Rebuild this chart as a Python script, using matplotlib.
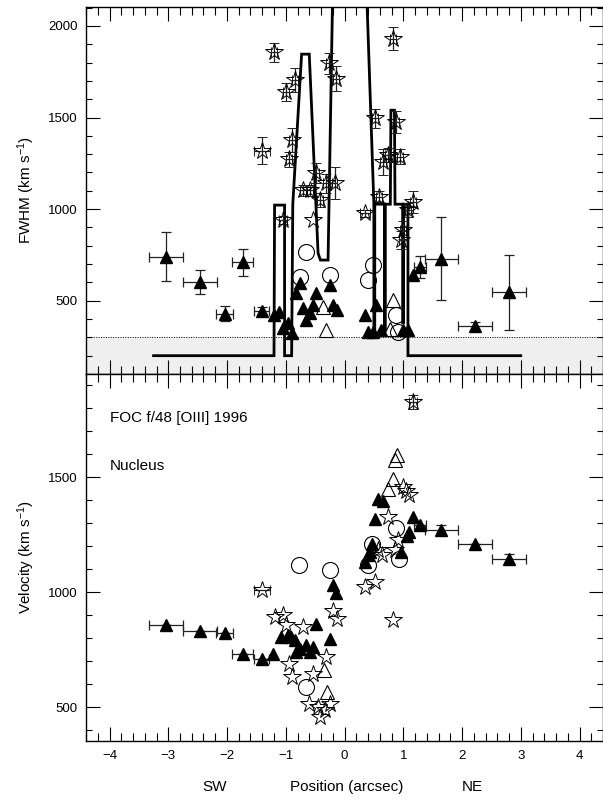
import matplotlib
matplotlib.use("Agg")
import matplotlib.pyplot as plt
from matplotlib.ticker import MultipleLocator, FixedLocator

plt.rcParams['font.family'] = ['Liberation Sans', 'DejaVu Sans']
plt.rcParams['mathtext.fontset'] = 'custom'
plt.rcParams['mathtext.rm'] = 'Liberation Sans'
plt.rcParams['mathtext.it'] = 'Liberation Sans:italic'
plt.rcParams['axes.unicode_minus'] = True

# ---------------- FWHM panel ----------------
# model profile (position, FWHM)
prof_x = [-3.25, -1.20, -1.19, -1.02, -1.02, -0.90, -0.88, -0.73, -0.60, -0.45,
          -0.41, -0.28, -0.13, 0.24, 0.386, 0.50, 0.50, 0.515, 0.515, 0.68,
          0.68, 0.695, 0.695, 0.78, 0.79, 0.85, 0.86, 0.99, 0.99, 1.005,
          1.005, 1.08, 1.08, 3.00]
prof_fwhm = [200, 200, 1022, 1022, 200, 200, 1027, 1846, 1846, 760,
             722, 722, 3500, 3500, 2100, 1027, 340, 340, 1027, 1027,
             340, 340, 1027, 1027, 1540, 1540, 1027, 1027, 380, 380,
             1027, 1027, 200, 200]

# filled triangles with error bars
fw_tri_e_x = [-3.04, -2.46, -2.04, -1.73, -1.41, 1.28, 1.65, 2.22, 2.80]
fw_tri_e_y = [740, 600, 430, 710, 445, 686, 730, 360, 545]
fw_tri_e_xerr = [0.29, 0.29, 0.15, 0.18, 0.13, 0.10, 0.28, 0.29, 0.29]
fw_tri_e_yerr = [135, 65, 40, 75, 20, 60, 225, 25, 205]

# filled triangles
fw_tri_x = [-1.20, -1.11, -1.05, -0.96, -0.89, -0.76, -0.82, -0.48, -0.25, -0.54,
            -0.71, -0.59, -0.65, -0.19, -0.13, 0.35, 0.40, 0.49, 0.53, 0.62,
            1.00, 1.08, 1.17]
fw_tri_y = [422, 440, 350, 377, 324, 595, 541, 541, 586, 477,
            459, 432, 395, 477, 450, 422, 331, 331, 477, 341,
            341, 341, 640]

# open stars with error bars
fw_star_x = [-1.40, -1.20, -1.00, -0.85, -0.89, -0.94, -1.05, -0.71, -0.59, -0.48,
             -0.42, -0.31, -0.17, -0.26, -0.14, 0.82, 0.52, 0.87, 0.66, 0.74,
             0.94, 0.59, 0.35, 1.16, 1.08, 1.00, 0.97]
fw_star_y = [1320, 1855, 1640, 1705, 1377, 1271, 940, 1104, 1104, 1195,
             1050, 1140, 1143, 1795, 1713, 1931, 1495, 1477, 1258, 1295,
             1286, 1068, 977, 1040, 995, 886, 831]
fw_star_xerr = [0.14, 0.05, 0.05, 0.05, 0.05, 0.05, 0.07, 0.05, 0.05, 0.05,
                0.05, 0.05, 0.05, 0.05, 0.05, 0.05, 0.05, 0.05, 0.05, 0.05,
                0.05, 0.05, 0.08, 0.05, 0.05, 0.05, 0.05]
fw_star_yerr = [75, 50, 50, 68, 64, 40, 20, 30, 30, 55,
                40, 50, 86, 55, 67, 65, 50, 60, 70, 40,
                40, 30, 20, 60, 40, 50, 50]

# open stars
fw_star2_x = [-0.54]
fw_star2_y = [940]

# open circles
fw_circ_x = [-0.65, -0.76, -0.25, 0.48, 0.40, 0.87, 0.91]
fw_circ_y = [768, 631, 640, 695, 613, 422, 331]

# open triangles
fw_otri_x = [-0.36, -0.31, 0.82, 0.78]
fw_otri_y = [468, 341, 504, 345]

fw_floor = 300

# ---------------- Velocity panel ----------------
v_tri_e_x = [-3.04, -2.46, -2.04, -1.73, -1.41, 1.28, 1.65, 2.22, 2.80]
v_tri_e_y = [855, 833, 822, 729, 710, 1290, 1271, 1207, 1145]
v_tri_e_xerr = [0.29, 0.29, 0.15, 0.18, 0.13, 0.10, 0.28, 0.29, 0.29]
v_tri_e_yerr = [0, 0, 0, 0, 0, 0, 20, 0, 20]

v_tri_x = [0.57, 0.66, 0.52, 1.17, 1.10, 1.06, 0.46, 0.43, 0.40, 0.35,
           0.97, -0.19, -0.15, -0.48, -0.25, -1.08, -0.97, -0.91, -0.85, -0.76,
           -0.65, -0.54, -0.59, -0.82, -1.22]
v_tri_y = [1406, 1396, 1319, 1326, 1261, 1242, 1210, 1174, 1160, 1130,
           1174, 1029, 996, 860, 797, 807, 812, 804, 790, 754,
           768, 761, 739, 739, 732]

v_star_e_x = [-1.40, 1.16]
v_star_e_y = [1007, 1826]
v_star_e_xerr = [0.14, 0.07]
v_star_e_yerr = [0, 30]

v_star_x = [1.00, 1.10, 1.04, 0.74, 0.91, 0.86, 0.63, 0.57, 0.35, 0.52,
            0.82, -0.19, -0.13, -0.71, -1.05, -1.19, -1.00, -0.31, -0.94, -0.54,
            -0.89, -0.60, -0.45, -0.25, -0.42, -0.34]
v_star_y = [1456, 1420, 1440, 1326, 1225, 1181, 1160, 1181, 1022, 1043,
            877, 920, 884, 848, 899, 891, 855, 717, 689, 645,
            630, 515, 500, 515, 457, 486]

v_circ_x = [0.87, 0.46, 0.40, 0.93, -0.77, -0.25, -0.65]
v_circ_y = [1280, 1210, 1116, 1145, 1116, 1094, 587]

v_otri_x = [0.89, 0.86, 0.82, 0.74, -0.35, -0.30]
v_otri_y = [1594, 1575, 1493, 1450, 663, 565]

x_ticks = [-4, -3, -2, -1, 0, 1, 2, 3, 4]
x_ticklabels = ['\u22124', '\u22123', '\u22122', '\u22121', '0', '1', '2', '3', '4']

# ---------------- drawing ----------------
fig = plt.figure(figsize=(6.03, 8.0), dpi=100)
L, R = 86 / 603, 603 / 603
ax1 = fig.add_axes([L, 1 - 374 / 800, R - L, (374 - 6.7) / 800])
ax2 = fig.add_axes([L, 1 - 740.5 / 800, R - L, (740.5 - 374) / 800])

tri_kw = dict(marker='^', ms=8.5, mfc='black', mec='black', ls='none', zorder=4)
star_kw = dict(marker='*', ms=13, mfc='none', mec='black', mew=0.7, ls='none', zorder=5)
circ_kw = dict(marker='o', ms=11.5, mfc='none', mec='black', mew=0.8, ls='none', zorder=5)
otri_kw = dict(marker='^', ms=10, mfc='none', mec='black', mew=0.8, ls='none', zorder=5)
err_kw = dict(ecolor='#222222', elinewidth=0.9, capsize=3.6, capthick=0.9)

xmin, xmax = -4.4, 4.4

# FWHM panel
ax1.axhspan(0, fw_floor, color='#efefef', zorder=0, lw=0)
ax1.axhline(fw_floor, color='black', ls=(0, (1, 1.5)), lw=0.7, zorder=1)
ax1.plot(prof_x, prof_fwhm, color='black', lw=2.0, zorder=3, solid_joinstyle='miter')
ax1.errorbar(fw_tri_e_x, fw_tri_e_y, xerr=fw_tri_e_xerr, yerr=fw_tri_e_yerr,
             **tri_kw, **err_kw)
ax1.plot(fw_tri_x, fw_tri_y, **tri_kw)
ax1.errorbar(fw_star_x, fw_star_y, xerr=fw_star_xerr, yerr=fw_star_yerr,
             **star_kw, **err_kw)
ax1.plot(fw_star2_x, fw_star2_y, **star_kw)
ax1.plot(fw_circ_x, fw_circ_y, **circ_kw)
ax1.plot(fw_otri_x, fw_otri_y, **otri_kw)
ax1.set_xlim(xmin, xmax)
ax1.set_ylim(100, 2105)
ax1.yaxis.set_major_locator(FixedLocator([500, 1000, 1500, 2000]))
ax1.yaxis.set_minor_locator(MultipleLocator(100))
ax1.set_ylabel('FWHM (km s$^{-1}$)', fontsize=11, labelpad=8)
ax1.tick_params(labelbottom=False)

# Velocity panel
ax2.errorbar(v_tri_e_x, v_tri_e_y, xerr=v_tri_e_xerr, yerr=v_tri_e_yerr,
             **tri_kw, **err_kw)
ax2.plot(v_tri_x, v_tri_y, **tri_kw)
ax2.errorbar(v_star_e_x, v_star_e_y, xerr=v_star_e_xerr, yerr=v_star_e_yerr,
             **star_kw, **err_kw)
ax2.plot(v_star_x, v_star_y, **star_kw)
ax2.plot(v_circ_x, v_circ_y, **circ_kw)
ax2.plot(v_otri_x, v_otri_y, **otri_kw)
ax2.set_xlim(xmin, xmax)
ax2.set_ylim(355, 1948)
ax2.yaxis.set_major_locator(FixedLocator([500, 1000, 1500]))
ax2.yaxis.set_minor_locator(MultipleLocator(100))
ax2.set_ylabel('Velocity (km s$^{-1}$)', fontsize=11, labelpad=8)
ax2.set_xticks(x_ticks)
ax2.set_xticklabels(x_ticklabels)
ax2.text(-4.0, 1755, 'FOC f/48 [OIII] 1996', fontsize=11, va='center', ha='left')
ax2.text(-4.0, 1550, 'Nucleus', fontsize=11, va='center', ha='left')

fig.text(215 / 603, 1 - 787 / 800, 'SW', fontsize=11, ha='center', va='center')
fig.text(347 / 603, 1 - 787 / 800, 'Position (arcsec)', fontsize=11, ha='center', va='center')
fig.text(472 / 603, 1 - 787 / 800, 'NE', fontsize=11, ha='center', va='center')

for ax in (ax1, ax2):
    ax.xaxis.set_major_locator(FixedLocator(x_ticks))
    ax.xaxis.set_minor_locator(MultipleLocator(0.2))
    ax.tick_params(which='both', direction='in', top=True, right=True,
                   labelsize=9.5, width=0.8, colors='black')
    ax.tick_params(which='major', axis='x', length=10, pad=7)
    ax.tick_params(which='minor', axis='x', length=5.5)
    ax.tick_params(which='major', axis='y', length=10, pad=6)
    ax.tick_params(which='minor', axis='y', length=4.5)
    for s in ax.spines.values():
        s.set_linewidth(1.0)

fig.savefig('out.png', dpi=100)
